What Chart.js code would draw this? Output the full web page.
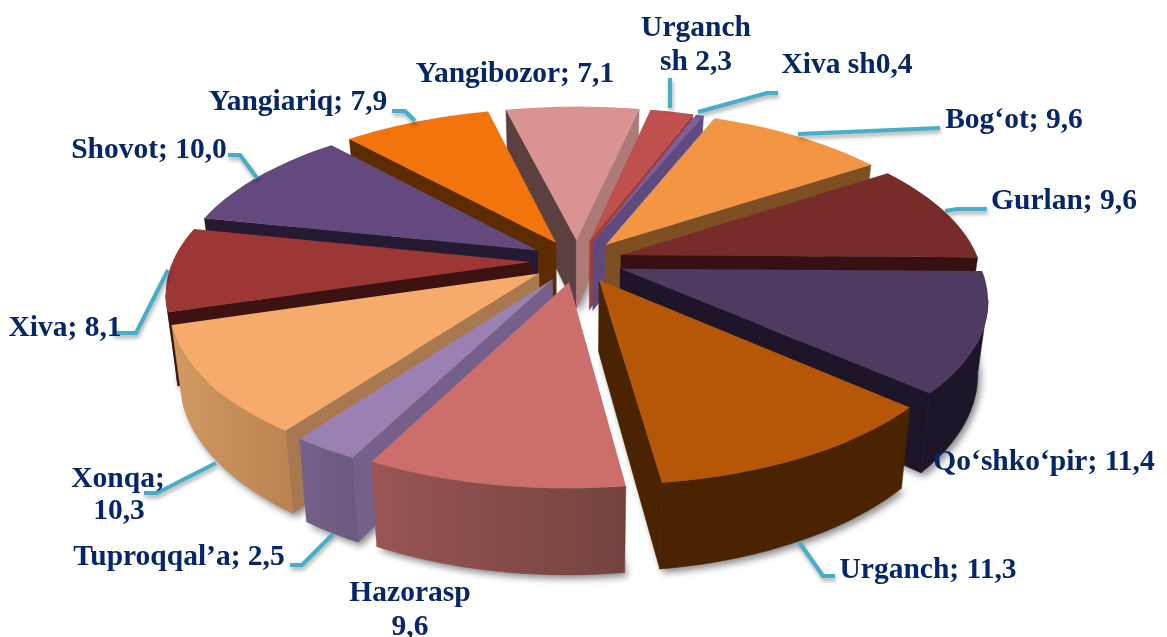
<!DOCTYPE html>
<html><head><meta charset="utf-8">
<script src="https://cdn.jsdelivr.net/npm/chart.js@4/dist/chart.umd.min.js"></script>
<style>html,body{margin:0;padding:0;background:#fff}#w{width:1167px;height:637px}</style>
</head><body><div id="w"><canvas id="c"></canvas></div>
<script>
const categories = ["Urganch sh","Xiva sh","Bog‘ot","Gurlan","Qo‘shko‘pir","Urganch","Hazorasp","Tuproqqal’a","Xonqa","Xiva","Shovot","Yangiariq","Yangibozor"];
const values = [2.3,0.4,9.6,9.6,11.4,11.3,9.6,2.5,10.3,8.1,10.0,7.9,7.1];
const topColors = ["#C0504D","#7D5FA0","#F39644","#772C2A","#4F3B62","#B65708","#CB6E6C","#9A80B3","#F6AB6C","#9C3735","#64497F","#F3730D","#D99391"];
const startWall = ["#9B3F3D","#5F4A80","#7D4F22","#3A1213","#1F1528","#4A2300","#744340","#75608A","#A87850","#3D1312","#261A33","#5C2C00","#5C403F"];
const endWall   = ["#9B3F3D","#5F4A80","#7D4F22","#361012","#1F1528","#4A2300","#744340","#6B5A7E","#A87850","#3D1312","#261A33","#5C2C00","#AE7A78"];
const outerLeft = ["#9B3F3D","#5F4A80","#7D4F22","#3A1213","#1F1528","#4A2300","#985553","#75608A","#D09A62","#3D1312","#261A33","#5C2C00","#5C403F"];
const outerRight= ["#9B3F3D","#5F4A80","#7D4F22","#3A1213","#1F1528","#4A2300","#744340","#6B5A7E","#BC8452","#3D1312","#261A33","#5C2C00","#AE7A78"];
const labelColor = "#06266A", leaderColor = "#46AEC8";
const labelLines = [
 ["Urganch",696,28,"center"],["sh 2,3",696,62,"center"],["Xiva sh0,4",847,65,"center"],
 ["Bog‘ot; 9,6",1014,120,"center"],["Gurlan; 9,6",1064,201,"center"],["Qo‘shko‘pir; 11,4",1044,462,"center"],
 ["Urganch; 11,3",928,570,"center"],["Hazorasp",410,593,"center"],["9,6",410,627,"center"],
 ["Tuproqqal’a; 2,5",179,557,"center"],["Xonqa;",118,479,"center"],["10,3",119,511,"center"],
 ["Xiva; 8,1",65,328,"center"],["Shovot; 10,0",149,150,"center"],["Yangiariq; 7,9",298,102,"center"],["Yangibozor; 7,1",515,74,"center"]];
const leaders = [
 [[670,78],[670,108]],[[778,93],[767,93],[698,112]],[[940,128],[798,134]],[[987,209],[957,209],[945,211]],
 [[835,576],[823,576],[799,542]],[[290,565],[302,565],[333,534]],[[144,493],[157,493],[216,463]],
 [[113,333],[136,333],[168,270]],[[228,155],[240,155],[257,178]],[[392,111],[405,111],[415,121]]];

const CX=577, CY=261, RX=358, RY=163, P=0.17, DEPTH=70, SHRINK=0.975;
function project(u,v){const k=1/(1-P*v);return {x:CX+u*RX*k,y:CY+v*RY*k,k};}
function lower(p){return {x:CX+(p.x-CX)*SHRINK,y:p.y+DEPTH*p.k};}
function poly(ctx,pts){ctx.beginPath();pts.forEach((p,i)=>i?ctx.lineTo(p.x,p.y):ctx.moveTo(p.x,p.y));ctx.closePath();}

const pie3d = {
 id:'pie3d',
 beforeDatasetDraw(chart,args){
  const ctx=chart.ctx, arcs=chart.getDatasetMeta(args.index).data;
  const slices=arcs.map((el,i)=>{
    const {startAngle:a0,endAngle:a1,outerRadius:r}=el.getProps(['startAngle','endAngle','outerRadius'],true);
    const mid=(a0+a1)/2, off=el.options.offset/r, ox=Math.cos(mid)*off, oy=Math.sin(mid)*off;
    const n=Math.max(2,Math.ceil((a1-a0)/(Math.PI/90)));
    const rim=[];
    for(let j=0;j<=n;j++){const a=a0+(a1-a0)*j/n;rim.push(project(ox+Math.cos(a),oy+Math.sin(a)));}
    return {i,apex:project(ox,oy),rim,order:oy};
  }).sort((a,b)=>a.order-b.order);
  ctx.save();
  slices.forEach(s=>{
    ctx.save();ctx.shadowColor='rgba(0,0,0,0.45)';ctx.shadowBlur=7;ctx.shadowOffsetX=3;ctx.shadowOffsetY=4;ctx.fillStyle='#888';
    poly(ctx,[lower(s.apex),...s.rim.map(lower)]);ctx.fill();ctx.restore();
  });
  slices.forEach(s=>{
    const i=s.i, first=s.rim[0], last=s.rim[s.rim.length-1];
    const band=(run,color)=>{
      ctx.fillStyle=color;ctx.strokeStyle=color;ctx.lineWidth=0.5;
      poly(ctx,[...run,...run.slice().reverse().map(lower)]);ctx.fill();ctx.stroke();
    };
    const xs=s.rim.map(p=>p.x), g=ctx.createLinearGradient(Math.min(...xs),0,Math.max(...xs),0);
    g.addColorStop(0,outerLeft[i]);g.addColorStop(1,outerRight[i]);
    if(first.x<s.apex.x) band([s.apex,first],startWall[i]);
    if(s.apex.x<last.x) band([last,s.apex],endWall[i]);
    let run=[];
    for(let j=0;j<s.rim.length-1;j++){
      if(s.rim[j+1].x<s.rim[j].x){ if(!run.length) run.push(s.rim[j]); run.push(s.rim[j+1]); }
      else if(run.length){ band(run,g); run=[]; }
    }
    if(run.length) band(run,g);
    ctx.fillStyle=topColors[i];poly(ctx,[s.apex,...s.rim]);ctx.fill();
  });
  ctx.restore();
  return false;
 },
 afterDraw(chart){
  const ctx=chart.ctx;ctx.save();
  ctx.lineJoin='miter';ctx.lineWidth=4;ctx.strokeStyle=leaderColor;
  ctx.shadowColor='rgba(0,0,0,0.35)';ctx.shadowBlur=4;ctx.shadowOffsetX=1;ctx.shadowOffsetY=3;
  leaders.forEach(l=>{ctx.beginPath();l.forEach((p,i)=>i?ctx.lineTo(p[0],p[1]):ctx.moveTo(p[0],p[1]));ctx.stroke();});
  ctx.shadowColor='transparent';
  ctx.font='bold 29.5px "Liberation Serif"';ctx.fillStyle=labelColor;ctx.textBaseline='middle';
  labelLines.forEach(t=>{ctx.textAlign=t[3];ctx.fillText(t[0],t[1],t[2]);});
  ctx.restore();
 }
};
new Chart(document.getElementById('c'),{
 type:'pie',
 data:{labels:categories,datasets:[{data:values,backgroundColor:topColors,borderWidth:0,offset:38.6,hoverOffset:0}]},
 options:{responsive:true,maintainAspectRatio:false,animation:false,rotation:12,
  plugins:{legend:{display:false},tooltip:{enabled:false}}},
 plugins:[pie3d]
});
</script></body></html>
